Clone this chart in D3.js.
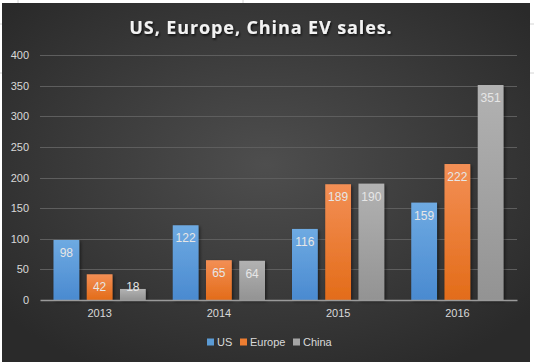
<!DOCTYPE html>
<html>
<head>
<meta charset="utf-8">
<script src="https://cdn.jsdelivr.net/npm/d3@7/dist/d3.min.js"></script>
<style>
html,body{margin:0;padding:0;background:#fff;}
svg{display:block;}
</style>
</head>
<body>
<svg id="chart" width="534" height="362"></svg>
<script>
const categories = ["2013", "2014", "2015", "2016"];
const seriesNames = ["US", "Europe", "China"];
const usValues = [98, 122, 116, 159];
const europeValues = [42, 65, 189, 222];
const chinaValues = [18, 64, 190, 351];
const yTicks = [0, 50, 100, 150, 200, 250, 300, 350, 400];
const title = "US, Europe, China EV sales.";

const seriesValues = [usValues, europeValues, chinaValues];
const colors = [
  {top: "#6eaae2", bottom: "#4a8ad0", legend: "#5b9bd5"},
  {top: "#f38f55", bottom: "#e36c19", legend: "#ed7d31"},
  {top: "#b2b2b2", bottom: "#939393", legend: "#a5a5a5"}
];

const svg = d3.select("#chart");
const W = 534, H = 362;
const defs = svg.append("defs");

// spreadsheet gridlines outside chart
const outer = svg.append("g");
[18, 243].forEach(x => outer.append("line").attr("x1", x).attr("x2", x).attr("y1", 0).attr("y2", H).attr("stroke", "#d4d4d4"));
[24, 73].forEach(y => outer.append("line").attr("x1", 0).attr("x2", W).attr("y1", y).attr("y2", y).attr("stroke", "#d4d4d4"));

const bg = defs.append("radialGradient").attr("id", "bg")
  .attr("cx", "50%").attr("cy", "45%").attr("r", "65%");
bg.append("stop").attr("offset", "0%").attr("stop-color", "#4e4e4e");
bg.append("stop").attr("offset", "100%").attr("stop-color", "#2a2a2a");

svg.append("rect").attr("x", 2).attr("y", 3).attr("width", 528).attr("height", H - 3)
  .attr("fill", "url(#bg)");

colors.forEach((c, i) => {
  const g = defs.append("linearGradient").attr("id", "g" + i)
    .attr("x1", 0).attr("y1", 0).attr("x2", 0).attr("y2", 1);
  g.append("stop").attr("offset", "0%").attr("stop-color", c.top);
  g.append("stop").attr("offset", "100%").attr("stop-color", c.bottom);
});

const sh = defs.append("filter").attr("id", "shadow").attr("x", "-20%").attr("y", "-20%").attr("width", "150%").attr("height", "150%");
sh.append("feDropShadow").attr("dx", 1.5).attr("dy", 1.5).attr("stdDeviation", 1.5).attr("flood-color", "#000").attr("flood-opacity", 0.5);

const tsh = defs.append("filter").attr("id", "tshadow");
tsh.append("feDropShadow").attr("dx", 1).attr("dy", 1.5).attr("stdDeviation", 1).attr("flood-color", "#000").attr("flood-opacity", 0.8);

const plot = {left: 40, right: 517, top: 55, bottom: 300};

const y = d3.scaleLinear().domain([0, 400]).range([plot.bottom, plot.top]);
const x0 = d3.scaleBand().domain(categories).range([plot.left, plot.right]).paddingInner(0).paddingOuter(0);
const x1 = d3.scaleBand().domain(seriesNames).range([13.5, x0.bandwidth() - 13.5]).paddingInner(0.225).paddingOuter(0);

// title
svg.append("text").attr("x", 261).attr("y", 34).attr("text-anchor", "middle")
  .attr("font-family", "'Open Sans', sans-serif").attr("font-weight", "bold")
  .attr("font-size", 18).attr("letter-spacing", "0.9px").attr("fill", "#f2f2f2")
  .attr("filter", "url(#tshadow)").text(title);

// gridlines
svg.append("g").selectAll("line").data(yTicks.filter(d => d > 0)).join("line")
  .attr("x1", plot.left).attr("x2", plot.right)
  .attr("y1", d => Math.round(y(d)) + 0.5).attr("y2", d => Math.round(y(d)) + 0.5)
  .attr("stroke", "#5e5e5e").attr("stroke-width", 1);

// y axis
const yAxis = svg.append("g").attr("transform", `translate(${plot.left},0)`)
  .call(d3.axisLeft(y).tickValues(yTicks).tickSize(0).tickPadding(11));
yAxis.select(".domain").remove();
yAxis.selectAll("text").attr("font-family", "'Liberation Sans', Arial, sans-serif")
  .attr("font-size", 11).attr("fill", "#d9d9d9");

// bars
const groups = svg.append("g").selectAll("g").data(categories).join("g")
  .attr("transform", d => `translate(${x0(d)},0)`);

groups.each(function(cat, ci) {
  const g = d3.select(this);
  seriesNames.forEach((s, si) => {
    const v = seriesValues[si][ci];
    g.append("rect").attr("x", x1(s)).attr("y", y(v))
      .attr("width", x1.bandwidth()).attr("height", y(0) - y(v))
      .attr("fill", `url(#g${si})`).attr("filter", "url(#shadow)");
    g.append("text").attr("x", x1(s) + x1.bandwidth() / 2)
      .attr("y", Math.min(y(v) + 17, y(0) - 9))
      .attr("text-anchor", "middle").attr("font-family", "'Liberation Sans', Arial, sans-serif")
      .attr("font-size", 12).attr("fill", "#e6e6e6").text(v);
  });
});

// x axis
const xAxis = svg.append("g").attr("transform", `translate(0,${plot.bottom})`)
  .call(d3.axisBottom(x0).tickSize(0).tickPadding(9));
xAxis.select(".domain").attr("stroke", "#9a9a9a").attr("stroke-width", 1.5);
xAxis.selectAll("text").attr("font-family", "'Liberation Sans', Arial, sans-serif")
  .attr("font-size", 11).attr("fill", "#d9d9d9");

// legend
const legendItems = [
  {name: seriesNames[0], x: 207},
  {name: seriesNames[1], x: 240},
  {name: seriesNames[2], x: 293}
];
const lg = svg.append("g");
legendItems.forEach((it, i) => {
  lg.append("rect").attr("x", it.x).attr("y", 338.5).attr("width", 7).attr("height", 7)
    .attr("fill", colors[i].legend);
  lg.append("text").attr("x", it.x + 10).attr("y", 345.5)
    .attr("font-family", "'Liberation Sans', Arial, sans-serif").attr("font-size", 11)
    .attr("fill", "#d9d9d9").text(it.name);
});
</script>
</body>
</html>
